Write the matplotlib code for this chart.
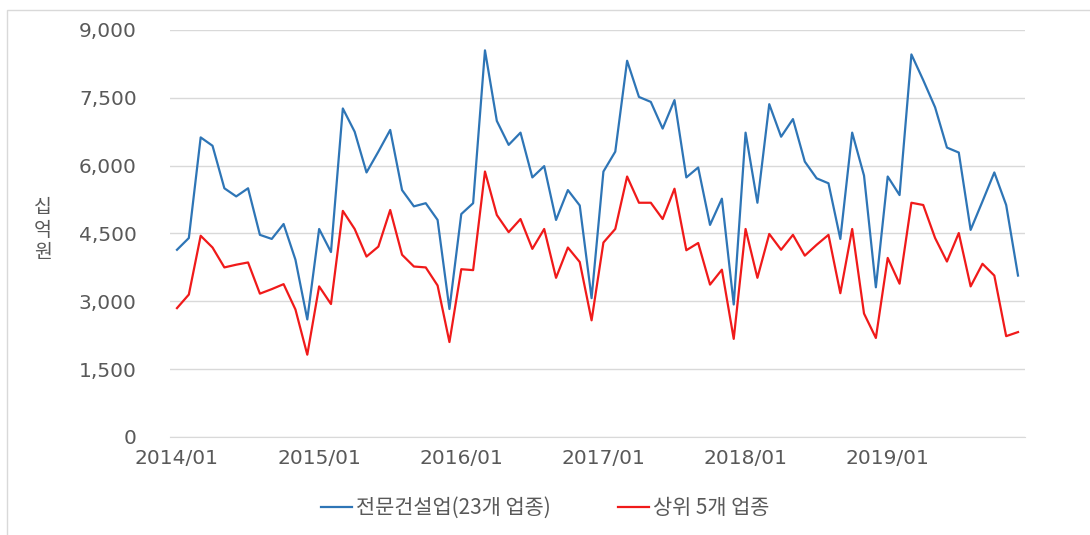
import matplotlib
matplotlib.use("Agg")
import matplotlib.pyplot as plt
from matplotlib.patches import Rectangle

plt.rcParams['font.family'] = ['DejaVu Sans', 'Noto Sans CJK KR']

# Monthly data 2014/01 - 2019/12 (unit: 십억원)
months = [f"{y}/{m:02d}" for y in range(2014, 2020) for m in range(1, 13)]

specialty_23 = [
    4140, 4400, 6625, 6440, 5500, 5320, 5500, 4470, 4380, 4710, 3920, 2600,
    4600, 4090, 7265, 6750, 5850, 6310, 6790, 5460, 5100, 5170, 4800, 2830,
    4930, 5170, 8550, 6990, 6460, 6730, 5740, 5990, 4800, 5460, 5120, 3070,
    5870, 6310, 8320, 7520, 7410, 6820, 7450, 5740, 5960, 4690, 5270, 2930,
    6730, 5180, 7360, 6640, 7030, 6090, 5720, 5610, 4380, 6730, 5780, 3310,
    5760, 5350, 8460, 7890, 7290, 6400, 6290, 4580, 5210, 5850, 5130, 3570,
]

top5 = [
    2850, 3150, 4450, 4190, 3750, 3810, 3860, 3170, 3270, 3380, 2820, 1820,
    3330, 2940, 5000, 4600, 3990, 4210, 5020, 4030, 3770, 3750, 3350, 2100,
    3710, 3690, 5870, 4910, 4530, 4820, 4160, 4600, 3520, 4190, 3870, 2580,
    4300, 4600, 5760, 5180, 5180, 4820, 5490, 4130, 4290, 3370, 3700, 2170,
    4600, 3520, 4490, 4140, 4470, 4010, 4250, 4470, 3180, 4600, 2730, 2190,
    3960, 3390, 5180, 5130, 4400, 3880, 4510, 3330, 3830, 3570, 2230, 2320,
]

series_labels = ["전문건설업(23개 업종)", "상위 5개 업종"]
y_ticks = [0, 1500, 3000, 4500, 6000, 7500, 9000]
y_label = "십\n억\n원"

fig = plt.figure(figsize=(10.9, 5.35), dpi=100)
fig.patch.set_facecolor('white')

# outer frame (top & left edges visible)
fig.patches.append(Rectangle((7 / 1090, -0.1), 1.2, 1 - 10 / 535 + 0.1,
                             transform=fig.transFigure, fill=False,
                             edgecolor='#D9D9D9', linewidth=1.0))

ax = fig.add_axes([170 / 1090, 1 - 437 / 535, 855 / 1090, 407 / 535])
x = list(range(len(months)))
ax.plot(x, specialty_23, color='#2E75B6', linewidth=1.6, label=series_labels[0])
ax.plot(x, top5, color='#F01A1A', linewidth=1.6, label=series_labels[1])

ax.set_ylim(0, 9000)
ax.set_xlim(-0.59, len(months) - 1 + 0.59)
ax.set_yticks(y_ticks)
ax.set_yticklabels([f"{v:,}" for v in y_ticks])
xt = list(range(0, len(months), 12))
ax.set_xticks(xt)
ax.set_xticklabels([months[i] for i in xt])

ax.grid(axis='y', color='#D9D9D9', linewidth=1.0)
ax.set_axisbelow(True)
for s in ['top', 'right', 'left']:
    ax.spines[s].set_visible(False)
ax.spines['bottom'].set_color('#D9D9D9')
ax.tick_params(axis='both', length=0, labelsize=14.5, colors='#595959')
ax.tick_params(axis='y', pad=24)
ax.tick_params(axis='x', pad=9)

fig.text(43 / 1090, 1 - 230 / 535, y_label, ha='center', va='center',
         fontsize=14, color='#595959', linespacing=1.1,
         family=['Noto Sans CJK KR', 'DejaVu Sans'])

leg = fig.legend(loc='center', bbox_to_anchor=(0.5, 1 - 508 / 535), ncol=2,
                 frameon=False, handlelength=1.5,
                 handletextpad=0.2, columnspacing=3.2,
                 prop={'family': ['Noto Sans CJK KR', 'DejaVu Sans'], 'size': 15})
for t in leg.get_texts():
    t.set_color('#595959')

fig.savefig('out.png', dpi=100)
